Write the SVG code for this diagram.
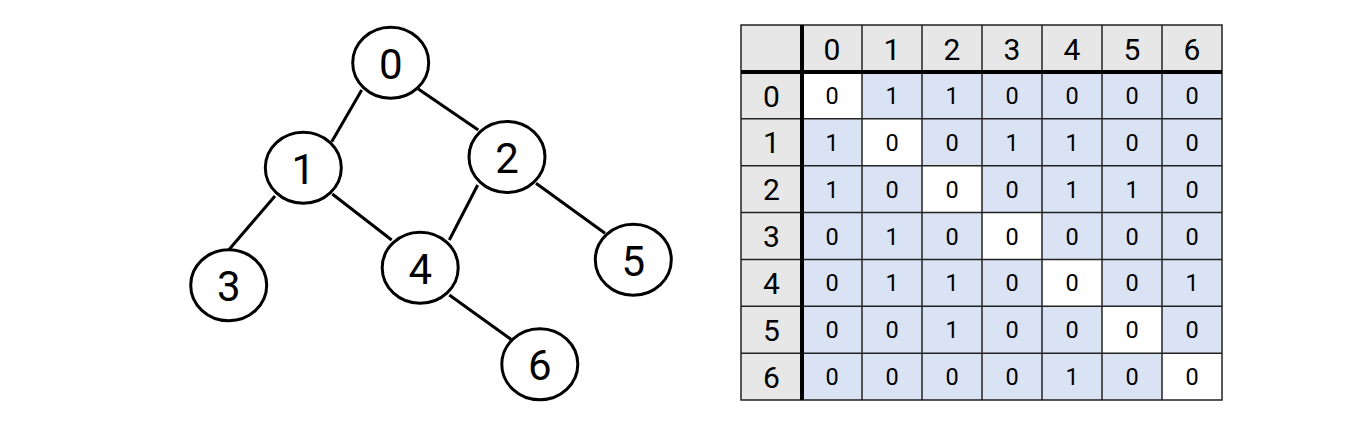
<svg xmlns="http://www.w3.org/2000/svg" width="1367" height="422" viewBox="0 0 1367 422">
<style>
.node ellipse{fill:#fff;stroke:#000;stroke-width:3}
.node text{font-family:Roboto,"Liberation Sans",sans-serif;font-size:42px;fill:#000;text-anchor:middle;dominant-baseline:central}
#connectors line{stroke:#000;stroke-width:3}
.hd{fill:#e7e7e7}
.bd{fill:#dae3f3}
.wd{fill:#fff}
.grid line{stroke:#222;stroke-width:1.5}
.thick{stroke:#000;stroke-width:4}
.ht{font-family:Roboto,"Liberation Sans",sans-serif;font-size:30px;fill:#000;text-anchor:middle;dominant-baseline:central}
.bt{font-family:Roboto,"Liberation Sans",sans-serif;font-size:23.5px;fill:#000;text-anchor:middle;dominant-baseline:central}
</style>
<rect width="1367" height="422" fill="#fff"/>
<g id="connectors">
<line x1="361.7" y1="90" x2="331.7" y2="141.7"/>
<line x1="418.3" y1="89" x2="478.3" y2="130"/>
<line x1="275" y1="196" x2="229.3" y2="249.3"/>
<line x1="332.3" y1="194" x2="391.7" y2="240"/>
<line x1="477.7" y1="185" x2="449.3" y2="240"/>
<line x1="536" y1="183.3" x2="605" y2="233.3"/>
<line x1="449.3" y1="295" x2="511" y2="339.3"/>
</g>
<g id="node0" class="node"><ellipse cx="390.7" cy="62.7" rx="38" ry="35.5"/><text x="390.7" y="64">0</text></g>
<g id="node1" class="node"><ellipse cx="303.3" cy="167.7" rx="38" ry="35.5"/><text x="303.3" y="169">1</text></g>
<g id="node2" class="node"><ellipse cx="507" cy="157" rx="38" ry="35.5"/><text x="507" y="158.3">2</text></g>
<g id="node3" class="node"><ellipse cx="228.7" cy="285.3" rx="38" ry="35.5"/><text x="228.7" y="286.6">3</text></g>
<g id="node4" class="node"><ellipse cx="420.2" cy="267.8" rx="38" ry="35.5"/><text x="420.2" y="269.1">4</text></g>
<g id="node5" class="node"><ellipse cx="633.3" cy="259.7" rx="38" ry="35.5"/><text x="633.3" y="261">5</text></g>
<g id="node6" class="node"><ellipse cx="539.8" cy="364.3" rx="38" ry="35.5"/><text x="539.8" y="365.6">6</text></g>
<g id="matrix">
<rect class="hd" x="741" y="25" width="481" height="47"/>
<rect class="hd" x="741" y="72" width="61" height="328"/>
<rect class="bd" x="802" y="72" width="420" height="328"/>
<rect class="wd" x="802" y="72" width="60" height="46.86"/>
<rect class="wd" x="862" y="118.86" width="60" height="46.86"/>
<rect class="wd" x="922" y="165.71" width="60" height="46.86"/>
<rect class="wd" x="982" y="212.57" width="60" height="46.86"/>
<rect class="wd" x="1042" y="259.43" width="60" height="46.86"/>
<rect class="wd" x="1102" y="306.29" width="60" height="46.86"/>
<rect class="wd" x="1162" y="353.14" width="60" height="46.86"/>
<g class="grid">
<line x1="862" y1="25" x2="862" y2="400"/>
<line x1="922" y1="25" x2="922" y2="400"/>
<line x1="982" y1="25" x2="982" y2="400"/>
<line x1="1042" y1="25" x2="1042" y2="400"/>
<line x1="1102" y1="25" x2="1102" y2="400"/>
<line x1="1162" y1="25" x2="1162" y2="400"/>
<line x1="741" y1="118.86" x2="1222" y2="118.86"/>
<line x1="741" y1="165.71" x2="1222" y2="165.71"/>
<line x1="741" y1="212.57" x2="1222" y2="212.57"/>
<line x1="741" y1="259.43" x2="1222" y2="259.43"/>
<line x1="741" y1="306.29" x2="1222" y2="306.29"/>
<line x1="741" y1="353.14" x2="1222" y2="353.14"/>
<rect x="741" y="25" width="481" height="375" fill="none" stroke="#222" stroke-width="1.5"/>
</g>
<line class="thick" x1="741" y1="72" x2="1222" y2="72"/>
<line class="thick" x1="802" y1="25" x2="802" y2="400"/>
<g class="ht">
<text x="832" y="49">0</text><text x="892" y="49">1</text><text x="952" y="49">2</text><text x="1012" y="49">3</text><text x="1072" y="49">4</text><text x="1132" y="49">5</text><text x="1192" y="49">6</text>
<text x="771.5" y="96">0</text><text x="771.5" y="142.9">1</text><text x="771.5" y="189.7">2</text><text x="771.5" y="236.6">3</text><text x="771.5" y="283.4">4</text><text x="771.5" y="330.3">5</text><text x="771.5" y="377.1">6</text>
</g>
<g class="bt">
<text x="832" y="96">0</text><text x="892" y="96">1</text><text x="952" y="96">1</text><text x="1012" y="96">0</text><text x="1072" y="96">0</text><text x="1132" y="96">0</text><text x="1192" y="96">0</text>
<text x="832" y="142.9">1</text><text x="892" y="142.9">0</text><text x="952" y="142.9">0</text><text x="1012" y="142.9">1</text><text x="1072" y="142.9">1</text><text x="1132" y="142.9">0</text><text x="1192" y="142.9">0</text>
<text x="832" y="189.7">1</text><text x="892" y="189.7">0</text><text x="952" y="189.7">0</text><text x="1012" y="189.7">0</text><text x="1072" y="189.7">1</text><text x="1132" y="189.7">1</text><text x="1192" y="189.7">0</text>
<text x="832" y="236.6">0</text><text x="892" y="236.6">1</text><text x="952" y="236.6">0</text><text x="1012" y="236.6">0</text><text x="1072" y="236.6">0</text><text x="1132" y="236.6">0</text><text x="1192" y="236.6">0</text>
<text x="832" y="283.4">0</text><text x="892" y="283.4">1</text><text x="952" y="283.4">1</text><text x="1012" y="283.4">0</text><text x="1072" y="283.4">0</text><text x="1132" y="283.4">0</text><text x="1192" y="283.4">1</text>
<text x="832" y="330.3">0</text><text x="892" y="330.3">0</text><text x="952" y="330.3">1</text><text x="1012" y="330.3">0</text><text x="1072" y="330.3">0</text><text x="1132" y="330.3">0</text><text x="1192" y="330.3">0</text>
<text x="832" y="377.1">0</text><text x="892" y="377.1">0</text><text x="952" y="377.1">0</text><text x="1012" y="377.1">0</text><text x="1072" y="377.1">1</text><text x="1132" y="377.1">0</text><text x="1192" y="377.1">0</text>
</g>
</g>
</svg>
